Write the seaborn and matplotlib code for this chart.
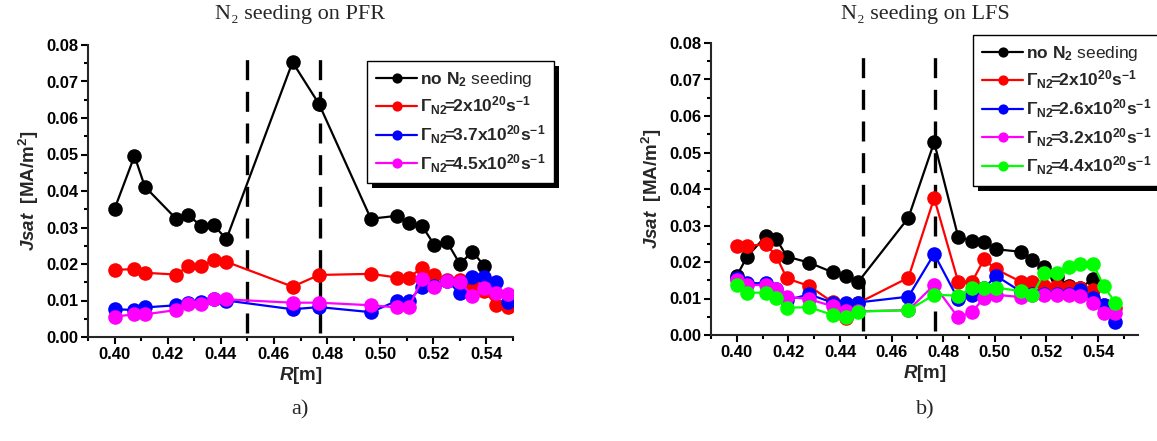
import numpy as np
import pandas as pd
import matplotlib
matplotlib.use("Agg")
import matplotlib.pyplot as plt
import seaborn as sns
from matplotlib.patches import Rectangle
from matplotlib.ticker import MultipleLocator, FormatStrFormatter

# ---------------- data: N2 seeding on PFR (panel a) ----------------
r_pfr = [0.400, 0.4075, 0.4114, 0.4233, 0.4278, 0.4327, 0.4374, 0.4421, 0.467, 0.477,
         0.4965, 0.5063, 0.5108, 0.5157, 0.5204, 0.5252, 0.530, 0.5347, 0.5392, 0.5437, 0.548]
pfr_none = [0.0351, 0.0496, 0.0412, 0.0323, 0.0333, 0.0304, 0.0306, 0.0268, 0.0753, 0.0638,
            0.0324, 0.0332, 0.0313, 0.0305, 0.0252, 0.0260, 0.0200, 0.0234, 0.0195]
pfr_g20 = [0.0184, 0.0186, 0.0176, 0.0171, 0.0195, 0.0195, 0.0211, 0.0206, 0.0138, 0.0170,
           0.0173, 0.0163, 0.0163, 0.0189, 0.0170, 0.0156, 0.0155, 0.0142, 0.0127, 0.0087, 0.0081]
pfr_g37 = [0.0076, 0.0074, 0.0081, 0.0087, 0.0092, 0.0097, 0.0103, 0.0100, 0.0076, 0.0082,
           0.0068, 0.0099, 0.0099, 0.0138, 0.0139, 0.0154, 0.0120, 0.0165, 0.0165, 0.0150, 0.0097]
pfr_g45 = [0.0056, 0.0062, 0.0062, 0.0074, 0.0090, 0.0090, 0.0103, 0.0103, 0.0094, 0.0094,
           0.0087, 0.0081, 0.0081, 0.0158, 0.0138, 0.0154, 0.0152, 0.0112, 0.0135, 0.0120, 0.0117]
pfr_labels = [r"$\mathbf{no\ N_2}$ seeding",
              r"$\mathbf{\Gamma_{N2}\!\!=\!\!2x10^{20}s^{-1}}$",
              r"$\mathbf{\Gamma_{N2}\!\!=\!\!3.7x10^{20}s^{-1}}$",
              r"$\mathbf{\Gamma_{N2}\!\!=\!\!4.5x10^{20}s^{-1}}$"]
pfr_colors = ["#000000", "#ff0000", "#0000ff", "#ff00ff"]
pfr_vlines = [0.45, 0.4775]

# ---------------- data: N2 seeding on LFS (panel b) ----------------
r_lfs = [0.400, 0.404, 0.4114, 0.4153, 0.4194, 0.4281, 0.4371, 0.4422, 0.4469, 0.4665,
         0.4765, 0.4858, 0.4912, 0.4958, 0.5005, 0.5101, 0.5146, 0.5191, 0.524, 0.5287,
         0.5332, 0.5381, 0.5422, 0.5467]
lfs_none = [0.0162, 0.0215, 0.0272, 0.0263, 0.0215, 0.0198, 0.0172, 0.0162, 0.0144, 0.0321,
            0.0528, 0.0269, 0.0258, 0.0256, 0.0235, 0.0228, 0.0205, 0.0185, 0.0160, 0.0135,
            0.0130, 0.0153]
lfs_g20 = [0.0245, 0.0245, 0.0248, 0.0216, 0.0155, 0.0134, 0.0090, 0.0046, 0.0087, 0.0157,
           0.0375, 0.0146, 0.0146, 0.0207, 0.0180, 0.0146, 0.0145, 0.0134, 0.0134, 0.0132,
           0.0130, 0.0123, 0.0082, 0.0073]
lfs_g26 = [0.0155, 0.0142, 0.0142, 0.0125, 0.0096, 0.0111, 0.0089, 0.0089, 0.0089, 0.0105,
           0.0222, 0.0098, 0.0110, 0.0128, 0.0162, 0.0119, 0.0112, 0.0112, 0.0112, 0.0112,
           0.0123, 0.0101, 0.0082, 0.0035]
lfs_g32 = [0.0150, 0.0137, 0.0137, 0.0125, 0.0105, 0.0098, 0.0079, 0.0067, 0.0065, 0.0068,
           0.0137, 0.0048, 0.0064, 0.0101, 0.0110, 0.0104, 0.0110, 0.0109, 0.0109, 0.0109,
           0.0108, 0.0089, 0.0061, 0.0059]
lfs_g44 = [0.0137, 0.0116, 0.0116, 0.0102, 0.0075, 0.0076, 0.0055, 0.0048, 0.0064, 0.0068,
           0.0110, 0.0108, 0.0128, 0.0128, 0.0130, 0.0120, 0.0110, 0.0169, 0.0171, 0.0185,
           0.0195, 0.0195, 0.0134, 0.0089]
lfs_labels = [r"$\mathbf{no\ N_2}$ seeding",
              r"$\mathbf{\Gamma_{N2}\!\!=\!\!2x10^{20}s^{-1}}$",
              r"$\mathbf{\Gamma_{N2}\!\!=\!\!2.6x10^{20}s^{-1}}$",
              r"$\mathbf{\Gamma_{N2}\!\!=\!\!3.2x10^{20}s^{-1}}$",
              r"$\mathbf{\Gamma_{N2}\!\!=\!\!4.4x10^{20}s^{-1}}$"]
lfs_colors = ["#000000", "#ff0000", "#0000ff", "#ff00ff", "#00ff00"]
lfs_vlines = [0.449, 0.477]

titles = ["N\u2082 seeding on PFR", "N\u2082 seeding on LFS"]
panel_tags = ["a)", "b)"]

# ---------------- style ----------------
sns.set_style("ticks")
plt.rcParams["font.family"] = ["Liberation Sans", "DejaVu Sans"]
plt.rcParams.update({
    "mathtext.fontset": "custom",
    "mathtext.rm": "Liberation Sans",
    "mathtext.it": "Liberation Sans:italic",
    "mathtext.bf": "Liberation Sans:bold",
    "mathtext.bfit": "Liberation Sans:italic:bold",
    "mathtext.sf": "Liberation Sans",
    "axes.linewidth": 1.5,
    "xtick.major.width": 1.5, "ytick.major.width": 1.5,
    "xtick.minor.width": 1.5, "ytick.minor.width": 1.5,
    "xtick.major.size": 5, "ytick.major.size": 5,
    "xtick.minor.size": 3, "ytick.minor.size": 3,
    "xtick.direction": "out", "ytick.direction": "out",
    "xtick.color": "black", "ytick.color": "black",
})

W, H = 1157, 441
fig = plt.figure(figsize=(W / 100, H / 100), dpi=100)

def fx(px):
    return px / W

def fy(py):
    return 1 - py / H

ax_a = fig.add_axes([fx(88), fy(337), fx(513) - fx(88), fy(45) - fy(337)])
ax_b = fig.add_axes([fx(711), fy(335), fx(1138) - fx(711), fy(43) - fy(335)])

panels = [
    (ax_a, r_pfr, [pfr_none, pfr_g20, pfr_g37, pfr_g45], pfr_labels, pfr_colors, pfr_vlines,
     (0.39, 0.55), (367, 61)),
    (ax_b, r_lfs, [lfs_none, lfs_g20, lfs_g26, lfs_g32, lfs_g44], lfs_labels, lfs_colors, lfs_vlines,
     (0.39, 0.5555), (973, 35)),
]

legends = []
for ax, rr, series, labels, colors, vlines, xlim, legpos in panels:
    for vals, lab, col in zip(series, labels, colors):
        sns.lineplot(x=rr[:len(vals)], y=vals, ax=ax, color=col, marker="o",
                     markersize=10.5, markeredgewidth=0, linewidth=1.6,
                     label=lab, sort=False, estimator=None)
    for xv in vlines:
        ax.axvline(xv, ymin=0.015, ymax=0.98, color="black", lw=2.4,
                   dashes=(6, 3.5), zorder=1)
    ax.set_xlim(*xlim)
    ax.set_ylim(0, 0.08)
    ax.xaxis.set_major_locator(MultipleLocator(0.02))
    ax.xaxis.set_minor_locator(MultipleLocator(0.01))
    ax.yaxis.set_major_locator(MultipleLocator(0.01))
    ax.yaxis.set_minor_locator(MultipleLocator(0.005))
    ax.xaxis.set_major_formatter(FormatStrFormatter("%.2f"))
    ax.yaxis.set_major_formatter(FormatStrFormatter("%.2f"))
    sns.despine(ax=ax)
    ax.tick_params(axis="both", which="major", labelsize=12, pad=2)
    for t in ax.get_xticklabels() + ax.get_yticklabels():
        t.set_fontweight("bold")
    ax.set_xlabel(r"$\mathbfit{R}$[m]", fontsize=13.5, fontweight="bold", labelpad=2)
    ax.set_ylabel(r"$\mathbfit{Jsat}$  [MA/m$^\mathbf{2}$]", fontsize=13.5,
                  fontweight="bold", labelpad=4)
    leg = ax.legend(loc="upper left", bbox_to_anchor=(fx(legpos[0]), fy(legpos[1])),
                    bbox_transform=fig.transFigure, borderaxespad=0, fontsize=12.5,
                    frameon=True, fancybox=False, edgecolor="black", framealpha=1,
                    handlelength=2.4, handletextpad=0.15, labelspacing=0.35,
                    borderpad=0.5, markerscale=0.7)
    leg.get_frame().set_linewidth(1.0)
    leg.set_zorder(6)
    legends.append((ax, leg))

serif = ["Liberation Serif", "DejaVu Serif"]
fig.text(fx(300), fy(14), titles[0], ha="center", va="center", fontsize=16, family=serif)
fig.text(fx(925), fy(14), titles[1], ha="center", va="center", fontsize=16, family=serif)
fig.text(fx(300), fy(410), panel_tags[0], ha="center", va="center", fontsize=16, family=serif)
fig.text(fx(925), fy(410), panel_tags[1], ha="center", va="center", fontsize=16, family=serif)

# legend drop shadows
fig.canvas.draw()
inv = fig.transFigure.inverted()
for ax, leg in legends:
    bb = leg.get_window_extent().transformed(inv)
    dx, dy = 5 / W, 5 / H
    ax.add_patch(Rectangle((bb.x0 + dx, bb.y0 - dy), bb.width, bb.height,
                           transform=fig.transFigure, facecolor="black",
                           edgecolor="none", clip_on=False, zorder=5.5))

fig.savefig("out.png", dpi=100)
